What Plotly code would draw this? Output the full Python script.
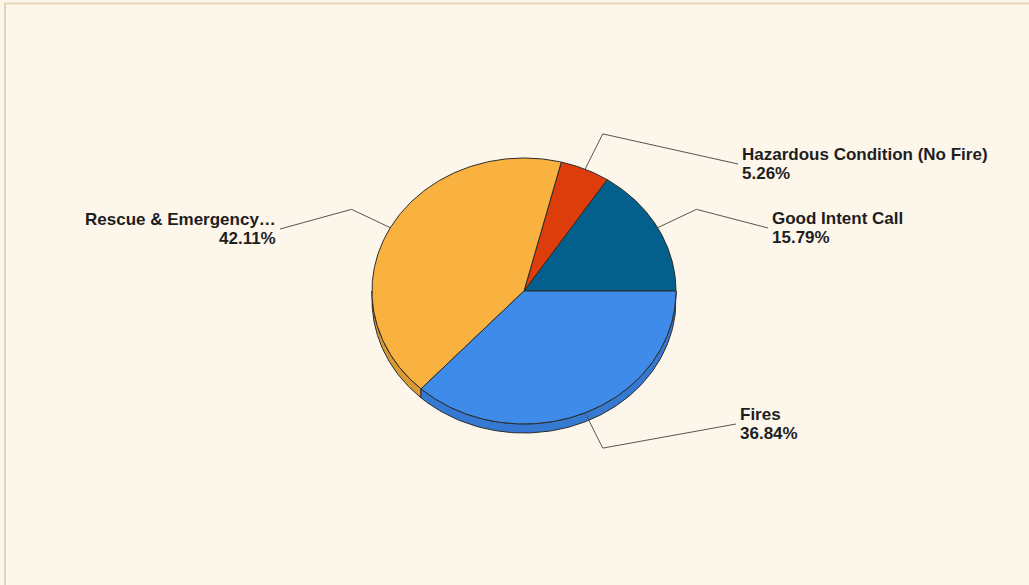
import numpy as np
import plotly.graph_objects as go

# ---- data ----
categories = ["Good Intent Call", "Hazardous Condition (No Fire)", "Rescue & Emergency…", "Fires"]
counts = [3, 1, 8, 7]
colors = ["#03608C", "#DC3D0A", "#F9B23F", "#3F8BEA"]
side_colors = ["#024E72", "#B3320A", "#D99A34", "#3679D2"]

# ---- layout (pixel space) ----
W, H = 1029, 585
cx, cy = 524, 291
rx, ry = 152, 133
depth = 9
elbow_r = 1.29
label_pos = {  # where the leader line ends / label anchor
    "Good Intent Call": (768, 228, "left"),
    "Hazardous Condition (No Fire)": (738, 164, "left"),
    "Rescue & Emergency…": (280, 229, "right"),
    "Fires": (736, 424, "left"),
}
edge = "#2B2B2B"
font = dict(family="Liberation Sans, Arial, sans-serif", size=17, color="#1E1E1E")

total = sum(counts)
fracs = [c / total for c in counts]
starts = np.cumsum([0] + fracs[:-1]) * 360.0
ends = starts + np.array(fracs) * 360.0


def ell(t_deg, dy=0.0):
    t = np.radians(t_deg)
    return cx + rx * np.cos(t), cy - ry * np.sin(t) + dy


fig = go.Figure()

# side walls (visible lower half, 180..360 deg)
for i, name in enumerate(categories):
    a1, a2 = max(starts[i], 180.0), min(ends[i], 360.0)
    if a2 <= a1:
        continue
    ts = np.linspace(a1, a2, 120)
    xt, yt = ell(ts)
    xb, yb = ell(ts[::-1], depth)
    xs = np.concatenate([xt, xb, xt[:1]])
    ys = np.concatenate([yt, yb, yt[:1]])
    fig.add_trace(go.Scatter(x=xs, y=ys, mode="lines", fill="toself",
                             fillcolor=side_colors[i],
                             line=dict(color=edge, width=1),
                             hoverinfo="skip", showlegend=False))

# top faces
for i, name in enumerate(categories):
    ts = np.linspace(starts[i], ends[i], 200)
    xa, ya = ell(ts)
    xs = np.concatenate([[cx], xa, [cx]])
    ys = np.concatenate([[cy], ya, [cy]])
    fig.add_trace(go.Scatter(x=xs, y=ys, mode="lines", fill="toself",
                             fillcolor=colors[i],
                             line=dict(color=edge, width=1),
                             hoverinfo="skip", showlegend=False))

# leader lines and labels
for i, name in enumerate(categories):
    mid = (starts[i] + ends[i]) / 2.0
    x0, y0 = ell(mid)
    t = np.radians(mid)
    x1, y1 = cx + elbow_r * rx * np.cos(t), cy - elbow_r * ry * np.sin(t)
    lx, ly, side = label_pos[name]
    fig.add_trace(go.Scatter(x=[x0, x1, lx], y=[y0, y1, ly], mode="lines",
                             line=dict(color="#555555", width=1),
                             hoverinfo="skip", showlegend=False))
    pct = f"{fracs[i] * 100:.2f}%"
    tx = lx + (2 if side == "left" else -2)
    for txt, off in ((name, -9.5), (pct, 9.5)):
        fig.add_annotation(x=tx, y=ly + off, text=f"<b>{txt}</b>",
                           showarrow=False, xanchor=side, yanchor="middle",
                           align=side, font=font)

fig.add_shape(type="rect", xref="x", yref="y", x0=5, y0=3.5, x1=1040, y1=600,
              line=dict(color="#E6D5BA", width=2), layer="below")

fig.update_layout(
    width=W, height=H,
    margin=dict(l=0, r=0, t=0, b=0),
    paper_bgcolor="#FDF6EB",
    plot_bgcolor="#FDF6EB",
    xaxis=dict(range=[0, W], visible=False, fixedrange=True),
    yaxis=dict(range=[H, 0], visible=False, fixedrange=True),
    showlegend=False,
)

fig.write_html("out.html", config={"displayModeBar": False},
               post_script="document.body.style.margin='0';document.body.style.overflow='hidden';document.body.style.background='#FDF6EB';")
